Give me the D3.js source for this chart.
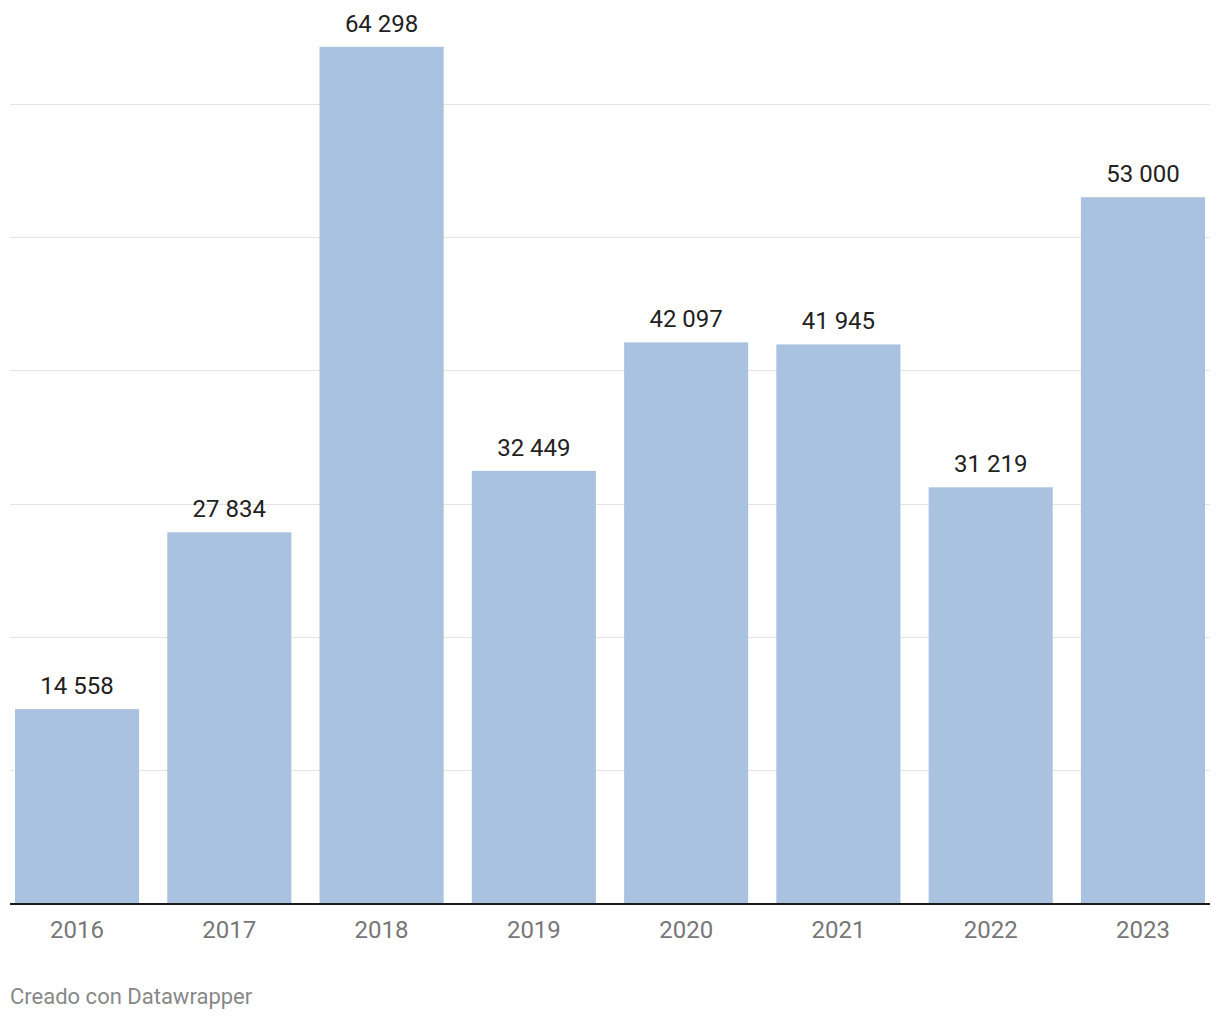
<!DOCTYPE html>
<html><head><meta charset="utf-8">
<script src="https://cdn.jsdelivr.net/npm/d3@7"></script>
<style>body{margin:0;background:#fff;font-family:Roboto,sans-serif;}</style>
</head><body><svg id="c" width="1220" height="1020"></svg>
<script>
const years = ["2016","2017","2018","2019","2020","2021","2022","2023"];
const values = [14558, 27834, 64298, 32449, 42097, 41945, 31219, 53000];
const gridTicks = [10000, 20000, 30000, 40000, 50000, 60000];
const footer = "Creado con Datawrapper";

const svg = d3.select("#c");
const x = d3.scaleBand().domain(years).range([15, 1205]).paddingInner(0.185).paddingOuter(0);
const y = d3.scaleLinear().domain([0, 60000]).range([903, 104]);
const fmt = v => d3.format(",")(v).replace(/,/g, " ");

svg.append("g").selectAll("line").data(gridTicks).join("line")
  .attr("x1", 10).attr("x2", 1210)
  .attr("y1", d => Math.round(y(d)) + 0.5).attr("y2", d => Math.round(y(d)) + 0.5)
  .attr("stroke", "#e3e3e3").attr("stroke-width", 1);

svg.append("g").selectAll("rect").data(values).join("rect")
  .attr("x", (d, i) => x(years[i])).attr("width", x.bandwidth())
  .attr("y", d => y(d)).attr("height", d => y(0) - y(d))
  .attr("fill", "#a8c2e0");

svg.append("line").attr("x1", 10).attr("x2", 1210).attr("y1", 904).attr("y2", 904)
  .attr("stroke", "#1a1a1a").attr("stroke-width", 2);

svg.append("g").selectAll("text").data(values).join("text")
  .attr("x", (d, i) => x(years[i]) + x.bandwidth() / 2)
  .attr("y", d => y(d) - 15)
  .attr("text-anchor", "middle").attr("font-size", 24).attr("fill", "#222")
  .text(d => fmt(d));

const xAxis = svg.append("g").attr("transform", "translate(0,905)")
  .call(d3.axisBottom(x).tickSize(0).tickPadding(16));
xAxis.select(".domain").remove();
xAxis.selectAll("text").attr("font-family", "Roboto, sans-serif").attr("font-size", 24).attr("fill", "#777");

svg.append("text").attr("x", 10).attr("y", 1004).attr("font-size", 22).attr("fill", "#888").text(footer);
</script></body></html>
